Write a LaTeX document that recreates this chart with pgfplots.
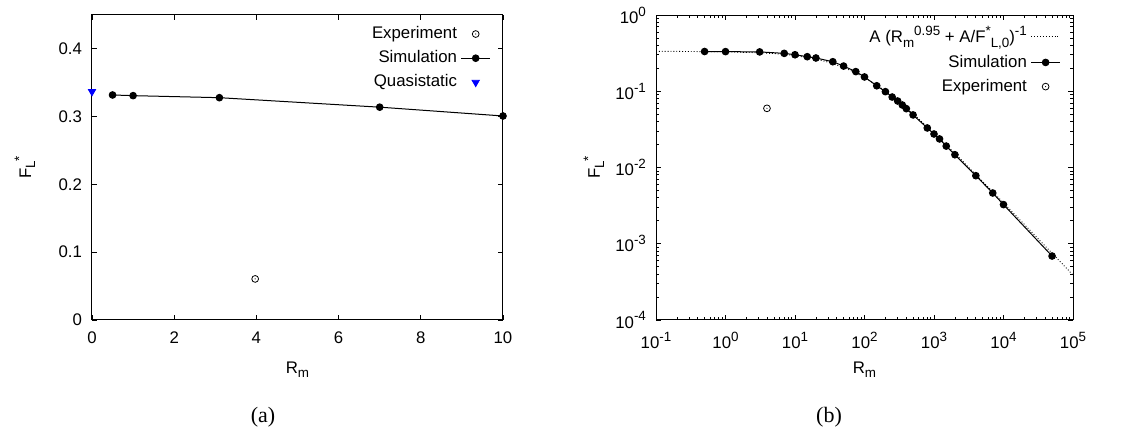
\documentclass[border=0pt]{standalone}
\usepackage{fontspec}
\setmainfont{Liberation Sans}
\newfontfamily\seriffont{Liberation Serif}
\usepackage{pgfplots}
\pgfplotsset{compat=1.18}
\pgfdeclareplotmark{odot}{%
  \pgfpathcircle{\pgfpointorigin}{\pgfplotmarksize}\pgfusepathqstroke
  \pgfpathcircle{\pgfpointorigin}{0.3pt}\pgfusepathqfill}
\newcommand{\fs}{\fontsize{8.4pt}{10pt}\selectfont}
\newcommand{\sups}[1]{\raisebox{0.42em}{\fontsize{6.7pt}{7pt}\selectfont #1}}
\newcommand{\subs}[1]{\raisebox{-0.25em}{\fontsize{6.7pt}{7pt}\selectfont #1}}
\pgfplotsset{
  myax/.style={
    scale only axis, anchor=south west,
    width=205.5pt, height=152.5pt,
    axis line style={line width=0.5pt},
    tick align=inside, xtick pos=both, ytick pos=both,
    major tick length=2.5pt, minor tick length=1.4pt,
    tick style={line width=0.4pt, black},
    /pgf/number format/assume math mode=true,
    tick label style={font=\fs},
    xticklabel style={yshift=-2.5pt},
    yticklabel style={xshift=-1.5pt},
    label style={font=\fs},
    clip=false,
    legend style={draw=none, fill=none, font=\fs, anchor=north east,
      legend cell align=right, row sep=0.5pt},
    legend plot pos=right,
    legend image code/.code={\draw[mark repeat=2,mark phase=2,##1] plot coordinates {(0cm,0cm) (0.25cm,0cm) (0.5cm,0cm)};},
  }
}
\begin{document}
\begin{tikzpicture}
\path[use as bounding box] (0pt,0pt) rectangle (566pt,216pt);
\begin{axis}[myax, at={(46pt,56pt)},
  xmin=0, xmax=10, ymin=0, ymax=0.45,
  xtick={0,2,4,6,8,10}, ytick={0,0.1,0.2,0.3,0.4},
  xlabel={R\subs{m}}, ylabel={F\subs{L}\sups{*}},
  xlabel style={at={(axis description cs:0.5,-0.164)}, anchor=center},
  ylabel style={at={(axis description cs:-0.163,0.5)}, anchor=center},
  legend style={at={(0.985,0.99)}},
]
\addplot[only marks, mark=odot, mark size=1.7pt, line width=0.4pt] coordinates {(3.97,0.0606)};
\addlegendentry{Experiment}
\addplot[black, line width=0.5pt, mark=*, mark size=1.65pt] coordinates {
(0.5,0.332) (1,0.331) (3.1,0.328) (7,0.314) (10,0.301)};
\addlegendentry{Simulation}
\addplot[only marks, blue, mark=triangle*, mark options={rotate=180}, mark size=2.1pt] coordinates {(0,0.337)};
\addlegendentry{Quasistatic}
\end{axis}
\begin{axis}[myax, at={(328pt,56pt)}, width=208.5pt,
  xmode=log, ymode=log,
  xmin=0.1, xmax=1e5, ymin=1e-4, ymax=1,
  xtick={0.1,1,10,100,1000,10000,100000},
  xticklabels={10\sups{-1},10\sups{0},10\sups{1},10\sups{2},10\sups{3},10\sups{4},10\sups{5}},
  ytick={1e-4,1e-3,1e-2,0.1,1},
  yticklabels={10\sups{-4},10\sups{-3},10\sups{-2},10\sups{-1},10\sups{0}},
  xlabel={R\subs{m}}, ylabel={F\subs{L}\sups{*}},
  xlabel style={at={(axis description cs:0.5,-0.164)}, anchor=center},
  ylabel style={at={(axis description cs:-0.149,0.5)}, anchor=center},
  legend style={at={(0.985,0.99)}},
]
\addplot[black, densely dotted, line width=0.45pt] coordinates {
(0.1,0.3334) (0.3,0.3324) (1,0.3290) (3,0.3201) (5,0.3121) (10,0.2940)
(20,0.2645) (30,0.2410) (50,0.2053) (70,0.1792) (100,0.1510) (150,0.1201)
(200,0.1000) (300,0.0752) (500,0.0507) (1000,0.02831) (2000,0.01528)
(5000,0.00657) (10000,0.003435) (30000,0.001218) (100000,0.000389)};
\addlegendentry{A (R\subs{m}\sups{0.95} + A/F\sups{*}\subs{L,0})\sups{-1}}
\addplot[black, line width=0.5pt, mark=*, mark size=1.65pt] coordinates {
(0.5,0.332) (1,0.331) (3.1,0.328) (7,0.314) (10,0.301) (15,0.284) (20,0.273)
(35,0.244) (50,0.214) (75,0.181) (100,0.154) (150,0.118) (200,0.0988)
(250,0.084) (300,0.0745) (350,0.066) (400,0.0591) (500,0.0489) (800,0.033)
(1000,0.0275) (1200,0.0237) (1500,0.0191) (2000,0.0147) (4000,0.00781)
(7000,0.00463) (10000,0.00326) (50000,0.00069)};
\addlegendentry{Simulation}
\addplot[only marks, mark=odot, mark size=1.7pt, line width=0.4pt] coordinates {(3.95,0.0597)};
\addlegendentry{Experiment}
\end{axis}
\node[font=\seriffont\fontsize{11pt}{13pt}\selectfont] at (131.5pt,7.5pt) {(a)};
\node[font=\seriffont\fontsize{11pt}{13pt}\selectfont] at (414.5pt,7.5pt) {(b)};
\end{tikzpicture}
\end{document}
